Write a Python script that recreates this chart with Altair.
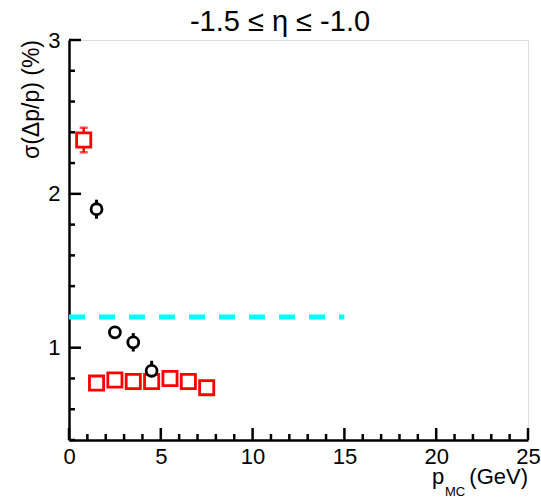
import altair as alt
import pandas as pd

# ---- data ----
red_x = [0.8, 1.5, 2.5, 3.5, 4.5, 5.5, 6.5, 7.5]
red_y = [2.35, 0.77, 0.79, 0.78, 0.78, 0.80, 0.78, 0.74]
red_err = [0.08, 0.01, 0.01, 0.01, 0.01, 0.01, 0.01, 0.035]

black_x = [1.5, 2.5, 3.5, 4.5]
black_y = [1.90, 1.10, 1.035, 0.85]
black_err = [0.062, 0.01, 0.06, 0.065]

ref_x = [0, 15]
ref_y = [1.2]

x_major = [0.0, 5.0, 10.0, 15.0, 20.0, 25.0]
x_minor = [float(v) for v in range(0, 26) if v % 5 != 0]
y_major = [1.0, 2.0, 3.0]
y_minor = [0.4, 0.6, 0.8, 1.2, 1.4, 1.6, 1.8, 2.2, 2.4, 2.6, 2.8]

title_text = "-1.5 \u2264 \u03b7 \u2264 -1.0"
ytitle_text = "\u03c3(\u0394p/p) (%)"

FONT = "Liberation Sans"
W, H = 459, 400
X0, X1, Y0, Y1 = 0.0, 25.0, 0.4, 3.0

red = pd.DataFrame({"x": red_x, "y": red_y,
                    "lo": [a - b for a, b in zip(red_y, red_err)],
                    "hi": [a + b for a, b in zip(red_y, red_err)]})
blk = pd.DataFrame({"x": black_x, "y": black_y,
                    "lo": [a - b for a, b in zip(black_y, black_err)],
                    "hi": [a + b for a, b in zip(black_y, black_err)]})
ref = pd.DataFrame({"x": [ref_x[0]], "x2": [ref_x[1]], "y": ref_y})

xs = alt.Scale(domain=[X0, X1], nice=False, zero=False)
ys = alt.Scale(domain=[Y0, Y1], nice=False, zero=False)

xaxis = alt.Axis(values=x_major, ticks=False, grid=False, labelFontSize=22,
                 labelFont=FONT, labelColor="black", labelPadding=6,
                 domainColor="black", domainWidth=2.5, title=None,
                 labelFlush=False)
yaxis = alt.Axis(values=y_major, ticks=False, grid=False, labelFontSize=22,
                 labelFont=FONT, labelColor="black", labelPadding=9,
                 domainColor="black", domainWidth=2.5, title=None)

X = lambda f="x": alt.X(f"{f}:Q", scale=xs, axis=xaxis)
Y = lambda f="y": alt.Y(f"{f}:Q", scale=ys, axis=yaxis)

base_ref = alt.Chart(ref).mark_rule(color="#00ffff", strokeWidth=5,
                                    strokeDash=[16, 14]).encode(
    x=X("x"), x2="x2:Q", y=Y("y"))

red_bar = alt.Chart(red).mark_rule(color="#ff0000", strokeWidth=2.5).encode(
    x=X(), y=Y("lo"), y2="hi:Q")
red_cap_lo = alt.Chart(red).mark_tick(color="#ff0000", orient="horizontal",
                                      size=8, thickness=2.5).encode(x=X(), y=Y("lo"))
red_cap_hi = alt.Chart(red).mark_tick(color="#ff0000", orient="horizontal",
                                      size=8, thickness=2.5).encode(x=X(), y=Y("hi"))
red_pts = alt.Chart(red).mark_point(shape="square", size=200, filled=False,
                                    fill="white", fillOpacity=1, color="#ff0000",
                                    strokeWidth=2.8, opacity=1).encode(x=X(), y=Y())

blk_bar = alt.Chart(blk).mark_rule(color="black", strokeWidth=3).encode(
    x=X(), y=Y("lo"), y2="hi:Q")
blk_pts = alt.Chart(blk).mark_point(shape="circle", size=120, filled=False,
                                    fill="white", fillOpacity=1, color="black",
                                    strokeWidth=2.8, opacity=1).encode(x=X(), y=Y())

# inward ticks (ROOT style): tick lengths converted from pixels to data units
px_x = (X1 - X0) / W
px_y = (Y1 - Y0) / H

xt = pd.DataFrame({
    "x": x_major + x_minor,
    "lo": [Y0] * (len(x_major) + len(x_minor)),
    "hi": [Y0 + 12 * px_y] * len(x_major) + [Y0 + 6 * px_y] * len(x_minor),
})
yt = pd.DataFrame({
    "y": y_major + y_minor,
    "lo": [X0] * (len(y_major) + len(y_minor)),
    "hi": [X0 + 12 * px_x] * len(y_major) + [X0 + 6 * px_x] * len(y_minor),
})

xtick_layer = alt.Chart(xt).mark_rule(color="black", strokeWidth=2.5).encode(
    x=X(), y=Y("lo"), y2="hi:Q")
ytick_layer = alt.Chart(yt).mark_rule(color="black", strokeWidth=2.5).encode(
    y=Y(), x=X("lo"), x2="hi:Q")

# titles as text
one = pd.DataFrame({"a": [0]})
t_title = alt.Chart(one).mark_text(text=title_text, font=FONT, fontSize=29,
                                   align="center", baseline="alphabetic", color="black").encode(
    x=alt.value(211), y=alt.value(-9))
t_ytitle = alt.Chart(one).mark_text(text=ytitle_text, font=FONT, fontSize=23, angle=270,
                                    align="right", baseline="middle", color="black").encode(
    x=alt.value(-37), y=alt.value(0))
t_p = alt.Chart(one).mark_text(text="p", font=FONT, fontSize=22, align="left",
                               baseline="alphabetic", color="black").encode(
    x=alt.value(363), y=alt.value(444))
t_mc = alt.Chart(one).mark_text(text="MC", font=FONT, fontSize=13, align="left",
                                baseline="alphabetic", color="black").encode(
    x=alt.value(376), y=alt.value(456))
t_gev = alt.Chart(one).mark_text(text="(GeV)", font=FONT, fontSize=22, align="right",
                                 baseline="alphabetic", color="black").encode(
    x=alt.value(W), y=alt.value(444))

chart = alt.layer(
    xtick_layer, ytick_layer, base_ref,
    red_bar, red_cap_lo, red_cap_hi, blk_bar, red_pts, blk_pts,
    t_title, t_ytitle, t_p, t_mc, t_gev,
).properties(
    width=W, height=H,
    autosize=alt.AutoSizeParams(type="none"),
    padding={"left": 69, "top": 40, "right": 13, "bottom": 58},
).configure_view(stroke="black", strokeWidth=2).configure(background="white")

chart.save("out.html", embed_options={"renderer": "svg", "actions": False})
